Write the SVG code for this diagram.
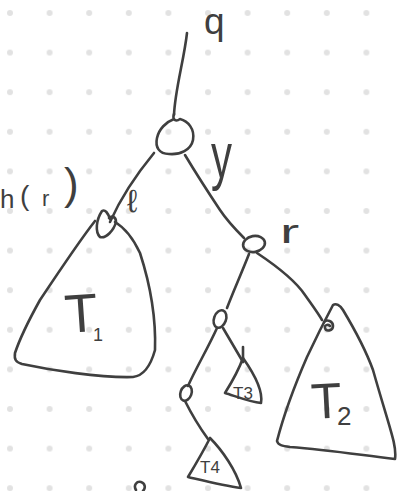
<svg xmlns="http://www.w3.org/2000/svg" width="397" height="491" viewBox="0 0 397 491">
<defs>
<pattern id="dots" x="-9.8" y="-6.8" width="39.6" height="39.6" patternUnits="userSpaceOnUse">
<circle cx="19.8" cy="19.8" r="3" fill="#e2e2e2"/>
</pattern>
<style>
.ink{fill:none;stroke:#3f3f3f;stroke-width:2.6;stroke-linecap:round;stroke-linejoin:round}
.lbl{font-family:"Liberation Sans",Arial,sans-serif;fill:#3f3f3f}
</style>
</defs>
<rect width="397" height="491" fill="#ffffff"/>
<rect width="397" height="491" fill="url(#dots)"/>

<g id="connectors">
<path class="ink" d="M187,33 C184,60 175,90 174,115"/>
<path class="ink" d="M154,153 C140,170 122,195 110,222"/>
<path class="ink" d="M185,155 C197,175 210,195 220,210 C228,222 236,230 244,238"/>
<path class="ink" d="M249,254 C242,272 233,292 227,308"/>
<path class="ink" d="M257,253 C275,265 295,280 305,295 C312,305 318,313 322,320"/>
<path class="ink" d="M217,328 C208,348 196,368 188,386"/>
<path class="ink" d="M223,328 C230,340 237,352 243,362"/>
<path class="ink" d="M185,401 C192,415 200,428 208,439"/>
</g>

<g id="label-q"><text class="lbl" x="204" y="34" font-size="37">q</text></g>
<g id="label-y"><text class="lbl" font-size="42" transform="translate(211,178) scale(1,1.55)">y</text></g>
<g id="label-l"><text class="lbl" x="127" y="212" font-size="32">ℓ</text></g>
<g id="label-hr"><text class="lbl"><tspan x="0" y="208" font-size="26">h</tspan><tspan x="20" y="205" font-size="28">(</tspan><tspan x="42" y="206" font-size="22">r</tspan><tspan x="64" y="199" font-size="44">)</tspan></text></g>
<g id="label-r"><text class="lbl" font-size="34" transform="translate(280,243) scale(1.7,1)">r</text></g>

<g id="node-q">
<path class="ink" d="M174,114 C172,120 176,122 180,119 C188,121 195,129 193,140 C191,150 180,155 169,154 C159,154 155,147 157,138 C159,129 166,122 174,119"/>
</g>

<g id="node-l">
<path class="ink" d="M110,219 C108,213 105,209 102,211 C96,220 95,232 100,237 C106,239 114,230 116,222 C116,217 112,215 109,218"/>
</g>

<g id="T1">
<path class="ink" d="M95,221 C80,240 60,270 40,300 C30,318 20,338 15,353 C14,360 16,362 22,364 C50,370 100,378 133,377 C142,376 150,368 155,350 C156,320 152,290 140,253 C133,238 125,228 115,222"/>
<text class="lbl" font-size="54" transform="translate(66,333) rotate(-4)">T</text>
<text class="lbl" x="93" y="341" font-size="18">1</text>
</g>

<g id="node-r">
<ellipse class="ink" cx="254" cy="244" rx="11" ry="8" transform="rotate(-10 254 244)"/>
</g>

<g id="node-m">
<ellipse class="ink" cx="220" cy="319" rx="6" ry="9" transform="rotate(20 220 319)"/>
</g>

<g id="node-ll">
<ellipse class="ink" cx="186" cy="393" rx="5.5" ry="8" transform="rotate(20 186 393)"/>
</g>

<g id="T3">
<path class="ink" d="M243,347 L243,362"/>
<path class="ink" d="M243,358 C238,372 230,385 225,393 C235,396 250,402 261,403 C263,392 255,375 243,358 Z"/>
<text class="lbl" x="233" y="399" font-size="17">T3</text>
</g>

<g id="T4">
<path class="ink" d="M210,438 C203,452 194,467 188,477 C205,481 225,486 241,488 C236,470 222,450 210,438 Z"/>
<text class="lbl" x="200" y="473" font-size="17">T4</text>
</g>

<g id="T2">
<path class="ink" d="M324,322 C327,319 333,321 333,326 C333,331 326,332 325,328 C324,325 328,324 330,326"/>
<path class="ink" d="M333,305 C325,320 315,340 307,357 C297,380 285,410 277,441 C278,445 282,446 290,447 C330,450 360,455 395,459 C397,445 390,430 373,370 C365,348 355,330 343,310 C340,305 336,303 333,305 Z"/>
<text class="lbl" font-size="50" transform="translate(312,419) rotate(-3)">T</text>
<text class="lbl" x="337" y="425" font-size="26">2</text>
</g>

<g id="mark">
<path class="ink" d="M136,490 C133,485 137,481 141,482 C145,483 146,488 143,491"/>
</g>
</svg>
